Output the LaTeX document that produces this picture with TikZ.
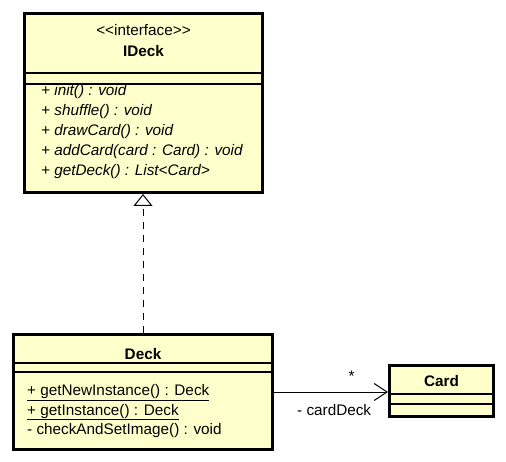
\documentclass[tikz,border=0pt]{standalone}
\usepackage{fontspec}
\setmainfont{Liberation Sans}
\usetikzlibrary{arrows.meta}
\definecolor{classfill}{HTML}{FFFFCC}
\tikzset{
  classbox/.style={draw, line width=3pt, fill=classfill, inner sep=0pt},
  sepline/.style={line width=1.2pt},
  txt/.style={inner sep=0pt, font=\fontsize{15.3}{20}\selectfont},
  title/.style={txt, anchor=base, font=\fontsize{15.3}{20}\selectfont\bfseries},
  op/.style={txt, anchor=base west},
  realize/.style={line width=1pt, dash pattern=on 7pt off 6pt, -{Triangle[open, length=12pt, width=19pt, fill=white]}},
  assoc/.style={line width=1pt, -{Straight Barb[length=13pt, width=17pt]}}
}

\begin{document}
\begin{tikzpicture}[x=1pt, y=-1pt]
  \useasboundingbox (0,0) rectangle (506,462);

  \node[classbox, minimum width=238pt, minimum height=179pt] (ideck) at (143.5,103) {};
  \draw[sepline] (ideck.west |- 0,73) -- (ideck.east |- 0,73);
  \draw[sepline] (ideck.west |- 0,84) -- (ideck.east |- 0,84);
  \node[txt, anchor=base] (ideck-stereo) at (143.5,35.5) {<\kern0pt<interface>\kern0pt>};
  \node[title] (ideck-name) at (143.5,56.5) {IDeck};
  \node[op] (ideck-op1) at (41,96)  {\itshape + init() : void};
  \node[op] (ideck-op2) at (41,116) {\itshape + shuffle() : void};
  \node[op] (ideck-op3) at (41,136) {\itshape + drawCard() : void};
  \node[op] (ideck-op4) at (41,156) {\itshape + addCard(card : Card) : void};
  \node[op] (ideck-op5) at (41,176) {\itshape + getDeck() : List<Card>};

  \node[classbox, minimum width=259pt, minimum height=115pt] (deck) at (143,392) {};
  \draw[sepline] (deck.west |- 0,363) -- (deck.east |- 0,363);
  \draw[sepline] (deck.west |- 0,372) -- (deck.east |- 0,372);
  \node[title] (deck-name) at (143,359.5) {Deck};
  \node[op] (deck-op1) at (27,395.5) {\underline{+ getNewInstance() : Deck}};
  \node[op] (deck-op2) at (27,415)   {\underline{+ getInstance() : Deck}};
  \node[op] (deck-op3) at (27,434.5) {- checkAndSetImage() : void};

  \node[classbox, minimum width=104pt, minimum height=51pt] (card) at (441.5,391) {};
  \draw[sepline] (card.west |- 0,394) -- (card.east |- 0,394);
  \draw[sepline] (card.west |- 0,404) -- (card.east |- 0,404);
  \node[title] (card-name) at (441.5,386.5) {Card};

  \draw[realize] (deck.north) -- (deck.north |- ideck.south);
  \draw[assoc] (deck.east) -- (deck.east -| card.west);
  \node[txt, anchor=base] (mult) at (351.5,381.5) {*};
  \node[op] (role) at (297,415) {- cardDeck};
\end{tikzpicture}
\end{document}
